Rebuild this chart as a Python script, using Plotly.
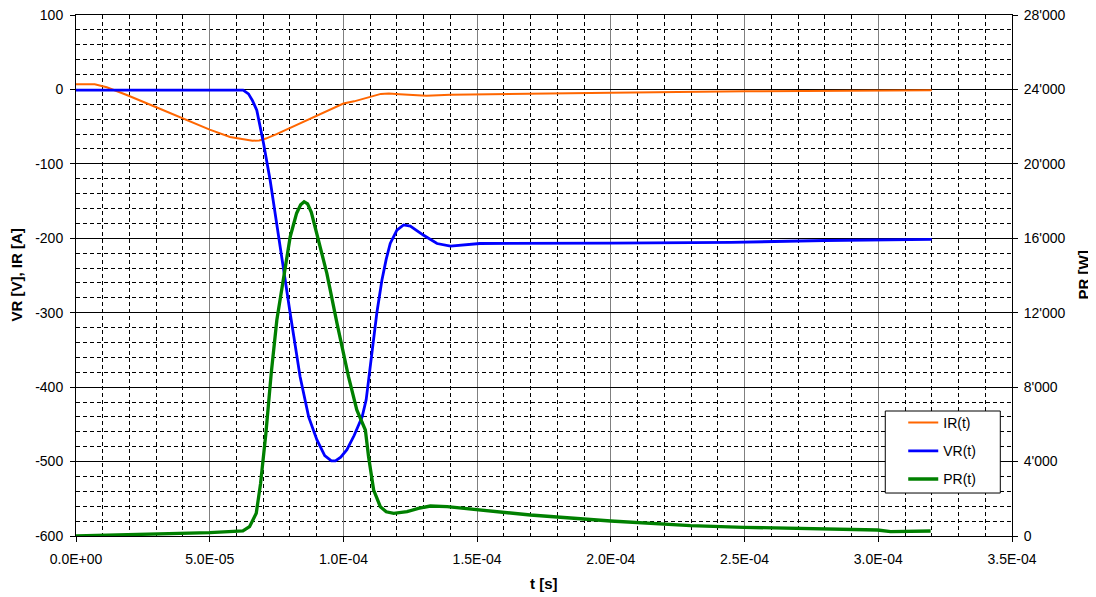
import numpy as np
import plotly.graph_objects as go

# ---- data (time in microseconds) ----
ir_t_us = [0, 7, 11.5, 19, 30, 40, 50, 57.6, 62, 66, 68.5, 71, 75, 80, 85, 90, 95, 100, 104, 107.5, 111, 114, 117, 121, 126, 131, 140, 160, 200, 250, 280, 320]
ir_vals = [7, 7, 3, -7.5, -24, -39, -54, -64, -67, -69, -68.5, -66, -60, -52, -44, -36, -27, -19, -16, -13, -9, -6, -5.5, -6.5, -7.5, -8.5, -7, -6, -4.5, -2.5, -1.5, -1]

vr_t_us = [0, 62.5, 64.5, 66, 67.6, 70.1, 72.6, 75, 77.6, 80.1, 83.8, 87, 90.1, 93, 95.5, 97, 99, 101.3, 104, 107,
           108.5, 109.4, 111, 112.5, 114.4, 116, 117.5, 120, 122.5, 125, 130, 135, 140, 146, 151, 200, 245, 280, 320]
vr_vals = [-1, -1, -6, -15, -28, -72, -122, -180, -243, -301, -386, -440, -471, -492, -499, -499, -494, -484, -465, -440,
           -417, -390, -340, -300, -256, -228, -207, -189, -182, -183.5, -196, -207, -210.5, -209, -207, -206.5, -205.5, -203, -201.5]

pr_t_us = [0, 20, 40, 50, 62.4, 64.9, 67.4, 69, 71, 73, 75.1, 77.6, 80.1, 82.5, 84, 85.3, 86.6, 88, 90.1, 93.8, 97.6, 101.9,
           105, 108.2, 109.4, 111.3, 113.8, 116, 118.8, 123.8, 128, 132.5, 138.8, 151.2, 169.9, 199.9, 229.8, 249.7, 276, 299.7, 304.6, 319.6]
pr_vals = [0, 60, 130, 180, 280, 500, 1220, 2800, 5500, 8744, 11608, 13935, 16085, 17350, 17800, 17965, 17850, 17400, 16267, 14118, 11430, 8561,
           6771, 5696, 4262, 2472, 1575, 1300, 1220, 1306, 1480, 1612, 1575, 1397, 1128, 806, 555, 466, 412, 322, 233, 268]

x_tickvals = [0, 5e-5, 1e-4, 1.5e-4, 2e-4, 2.5e-4, 3e-4, 3.5e-4]
x_ticktext = ["0.0E+00", "5.0E-05", "1.0E-04", "1.5E-04", "2.0E-04", "2.5E-04", "3.0E-04", "3.5E-04"]
y_tickvals = [100, 0, -100, -200, -300, -400, -500, -600]
y_ticktext = ["100", "0", "-100", "-200", "-300", "-400", "-500", "-600"]
y2_tickvals = [28000, 24000, 20000, 16000, 12000, 8000, 4000, 0]
y2_ticktext = ["28'000", "24'000", "20'000", "16'000", "12'000", "8'000", "4'000", "0"]

FONT = "Liberation Sans, Arial, sans-serif"

fig = go.Figure()
fig.add_trace(go.Scatter(x=np.array(ir_t_us) * 1e-6, y=ir_vals, name="IR(t)", mode="lines",
                         line=dict(color="#FF6600", width=2), legendgroup="a"))
fig.add_trace(go.Scatter(x=np.array(vr_t_us) * 1e-6, y=vr_vals, name="VR(t)", mode="lines",
                         line=dict(color="#0000FF", width=2.8), legendgroup="b"))
fig.add_trace(go.Scatter(x=np.array(pr_t_us) * 1e-6, y=pr_vals, name="PR(t)", mode="lines",
                         line=dict(color="#008000", width=3.3), legendgroup="c", yaxis="y2"))

# legend frame (white box with dark border)
fig.add_shape(type="rect", xref="paper", yref="paper", x0=0.8646, x1=0.9875, y0=0.0825, y1=0.2399,
              fillcolor="white", line=dict(color="black", width=1), layer="above")

# axis titles
title_font = dict(family=FONT, size=15, color="black")
fig.add_annotation(text="<b>VR [V], IR [A]</b>", xref="paper", yref="paper", x=0, y=0.5,
                   xshift=-60, textangle=-90, showarrow=False, xanchor="center", yanchor="middle", font=title_font)
fig.add_annotation(text="<b>PR [W]</b>", xref="paper", yref="paper", x=1, y=0.5,
                   xshift=71, textangle=-90, showarrow=False, xanchor="center", yanchor="middle", font=title_font)
fig.add_annotation(text="<b>t [s]</b>", xref="paper", yref="paper", x=0.5, y=0,
                   yshift=-47, showarrow=False, xanchor="center", yanchor="middle", font=title_font)

fig.update_layout(
    width=1088, height=589,
    margin=dict(l=68, r=84, t=7, b=61),
    paper_bgcolor="white", plot_bgcolor="white",
    font=dict(family=FONT, size=14, color="black"),
    showlegend=True,
    legend=dict(x=0.8838, y=0.2476, xanchor="left", yanchor="top",
                bgcolor="rgba(0,0,0,0)", borderwidth=0,
                font=dict(size=14), tracegroupgap=7),
    xaxis=dict(range=[0, 3.5e-4], tickmode="array", tickvals=x_tickvals, ticktext=x_ticktext,
               automargin=False, ticklabeloverflow="allow",
               showline=True, linecolor="black", linewidth=1, mirror=True,
               ticks="outside", ticklen=5, tickcolor="black", ticklabelstandoff=5,
               showgrid=True, gridcolor="#808080", gridwidth=1, zeroline=False,
               minor=dict(tickmode="linear", tick0=0, dtick=1e-5, showgrid=True,
                          gridcolor="black", griddash="4px,3px", gridwidth=1)),
    yaxis=dict(range=[-600, 100], tickmode="array", tickvals=y_tickvals, ticktext=y_ticktext,
               automargin=False, ticklabeloverflow="allow",
               showline=True, linecolor="black", linewidth=1, mirror=True,
               ticks="outside", ticklen=5, tickcolor="black", ticklabelstandoff=4,
               showgrid=True, gridcolor="black", gridwidth=1, zeroline=False,
               minor=dict(tickmode="linear", tick0=0, dtick=20, showgrid=True,
                          gridcolor="black", griddash="4px,3px", gridwidth=1)),
    yaxis2=dict(range=[0, 28000], overlaying="y", side="right", tickmode="array",
                tickvals=y2_tickvals, ticktext=y2_ticktext, automargin=False, ticklabeloverflow="allow",
                showline=True, linecolor="black", linewidth=1,
                ticks="outside", ticklen=5, tickcolor="black", ticklabelstandoff=3,
                showgrid=False, zeroline=False),
)

fig.write_html("out.html")
